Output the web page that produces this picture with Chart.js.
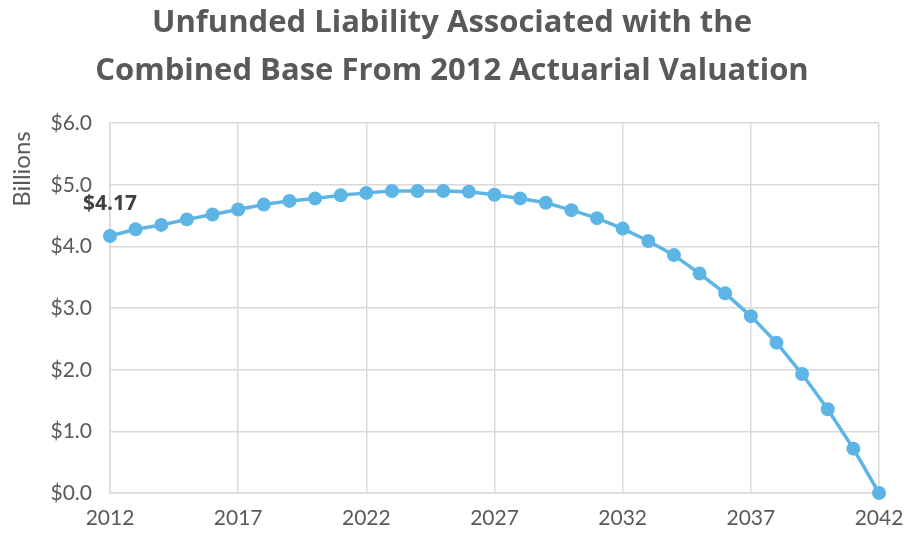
<!DOCTYPE html>
<html>
<head>
<meta charset="utf-8">
<script src="https://cdn.jsdelivr.net/npm/chart.js@4"></script>
<style>
  html, body { margin: 0; padding: 0; background: #fff; }
  #wrap { width: 904px; height: 535px; }
</style>
</head>
<body>
<div id="wrap"><canvas id="grafica" width="904" height="535"></canvas></div>
<script>
const anios = [2012, 2013, 2014, 2015, 2016, 2017, 2018, 2019, 2020, 2021, 2022,
  2023, 2024, 2025, 2026, 2027, 2028, 2029, 2030, 2031, 2032,
  2033, 2034, 2035, 2036, 2037, 2038, 2039, 2040, 2041, 2042];
const pasivo = [4.17, 4.28, 4.35, 4.44, 4.52, 4.60, 4.68, 4.74, 4.78, 4.83, 4.87,
  4.90, 4.90, 4.90, 4.89, 4.84, 4.78, 4.71, 4.59, 4.46, 4.29,
  4.09, 3.86, 3.56, 3.24, 2.87, 2.44, 1.93, 1.36, 0.72, 0.00];
const titulo = ["Unfunded Liability Associated with the", "Combined Base From 2012 Actuarial Valuation"];
const etiquetaY = "Billions";

const gris = "#595959";
const azul = "#5db5e5";

// etiqueta del primer punto y titulo del eje Y
const extras = {
  id: "extras",
  afterDatasetsDraw(chart) {
    const ctx = chart.ctx;
    const p = chart.getDatasetMeta(0).data[0];
    ctx.save();
    ctx.fillStyle = "#404040";
    ctx.font = "bold 21px 'Open Sans'";
    ctx.textAlign = "center";
    ctx.textBaseline = "bottom";
    ctx.fillText("$" + pasivo[0].toFixed(2), p.x, p.y - 22);
    ctx.restore();

    ctx.save();
    ctx.fillStyle = gris;
    ctx.font = "24px Lato";
    ctx.translate(22, 169);
    ctx.rotate(-Math.PI / 2);
    ctx.textAlign = "center";
    ctx.textBaseline = "middle";
    ctx.fillText(etiquetaY, 0, 0);
    ctx.restore();
  }
};

const ctx = document.getElementById("grafica").getContext("2d");
new Chart(ctx, {
  type: "line",
  data: {
    datasets: [{
      data: anios.map((a, i) => ({ x: a, y: pasivo[i] })),
      borderColor: azul,
      backgroundColor: azul,
      borderWidth: 3.5,
      pointRadius: 7,
      pointHoverRadius: 7,
      pointBorderWidth: 0,
      tension: 0,
      clip: false
    }]
  },
  options: {
    responsive: false,
    animation: false,
    layout: { padding: 0 },
    plugins: {
      legend: { display: false },
      tooltip: { enabled: false },
      title: {
        display: true,
        text: titulo,
        color: gris,
        font: { family: "Open Sans", size: 31, weight: "bold", lineHeight: 1.52 },
        padding: { top: 0, bottom: 29 }
      }
    },
    scales: {
      x: {
        type: "linear",
        min: 2012,
        max: 2042,
        ticks: {
          stepSize: 5,
          color: gris,
          font: { family: "Lato", size: 21 },
          padding: 13,
          maxRotation: 0,
          callback: v => String(v)
        },
        grid: { color: "#d9d9d9", lineWidth: 1.5, drawTicks: false },
        border: { color: "#d9d9d9", width: 1.5 },
        afterFit: s => { s.height = 42; s.paddingRight = 25; s.paddingLeft = 0; }
      },
      y: {
        min: 0,
        max: 6,
        ticks: {
          stepSize: 1,
          color: gris,
          font: { family: "Lato", size: 21 },
          padding: 18,
          callback: v => "$" + v.toFixed(1)
        },
        grid: { color: "#d9d9d9", lineWidth: 1.5, drawTicks: false },
        border: { color: "#d9d9d9", width: 1.5 },
        afterFit: s => { s.width = 110; s.paddingTop = 0; s.paddingBottom = 0; }
      }
    }
  },
  plugins: [extras]
});
</script>
</body>
</html>
